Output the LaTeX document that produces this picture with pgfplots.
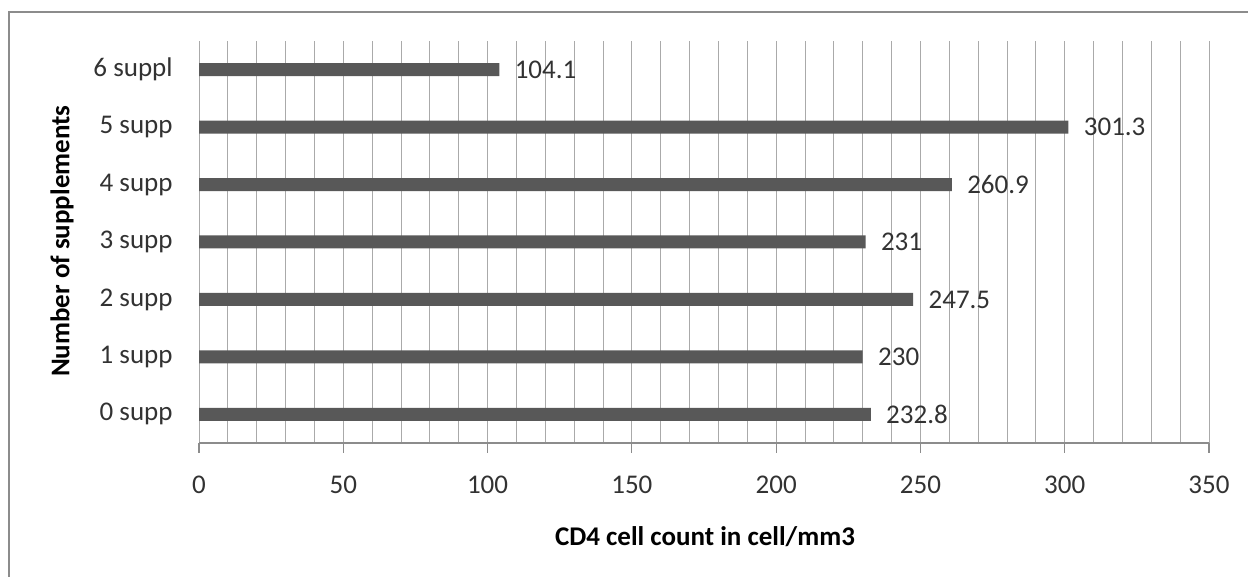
\documentclass[border=0pt]{standalone}
\usepackage{fontspec}
\setmainfont{Carlito}
\usepackage{pgfplots}
\pgfplotsset{compat=1.18}
\definecolor{barc}{RGB}{88,88,88}
\definecolor{gridc}{RGB}{170,170,170}
\definecolor{txt}{RGB}{50,50,50}
\begin{document}
\begin{tikzpicture}
\path[use as bounding box] (0,0) rectangle (624pt,288.5pt);
\draw[color={rgb,255:red,140;green,140;blue,140}, line width=1pt] (4.5pt,-10pt) -- (4.5pt,282.5pt) -- (640pt,282.5pt);
\begin{axis}[
  at={(99.5pt,67pt)}, anchor=south west,
  scale only axis, width=505pt, height=201pt,
  xbar, bar width=6.5pt,
  xmin=0, xmax=350, ymin=-0.5, ymax=6.5,
  xtick={0,50,...,350},
  minor xtick={10,20,30,40,60,70,80,90,110,120,130,140,160,170,180,190,210,220,230,240,260,270,280,290,310,320,330,340},
  ytick={0,1,2,3,4,5,6},
  yticklabels={0 supp,1 supp,2 supp,3 supp,4 supp,5 supp,6 suppl},
  xmajorgrids, xminorgrids,
  grid style={gridc, line width=0.5pt},
  minor grid style={gridc, line width=0.5pt},
  axis x line*=bottom, axis y line*=left,
  axis line style={color={rgb,255:red,140;green,140;blue,140}, line width=0.6pt},
  y axis line style={draw=none},
  major tick length=5pt, minor tick length=0pt,
  xtick align=outside,
  xtick style={color={rgb,255:red,140;green,140;blue,140}, line width=0.6pt},
  ytick style={draw=none},
  /pgf/number format/assume math mode=true,
  tick label style={font=\fontsize{13.5}{16}\selectfont, text=txt},
  xticklabel style={anchor=center, inner sep=0pt, yshift=-16pt},
  yticklabel style={inner sep=0pt, xshift=-8pt},
  xlabel={CD4 cell count in cell/mm3},
  ylabel={Number of supplements},
  xlabel style={font=\fontsize{13.5}{16}\selectfont\bfseries, at={(axis description cs:0.501,-0.234)}, anchor=center},
  ylabel style={font=\fontsize{13.5}{16}\selectfont\bfseries, at={(axis description cs:-0.1356,0.502)}, anchor=center},
  nodes near coords,
  point meta=explicit symbolic,
  every node near coord/.append style={font=\fontsize{13.5}{16}\selectfont, text=txt, anchor=west, inner sep=0pt, xshift=7.5pt},
]
\addplot[fill=barc, draw=none] coordinates {
  (232.8,0) [232.8]
  (230,1) [230]
  (247.5,2) [247.5]
  (231,3) [231]
  (260.9,4) [260.9]
  (301.3,5) [301.3]
  (104.1,6) [104.1]
};
\end{axis}
\end{tikzpicture}
\end{document}
